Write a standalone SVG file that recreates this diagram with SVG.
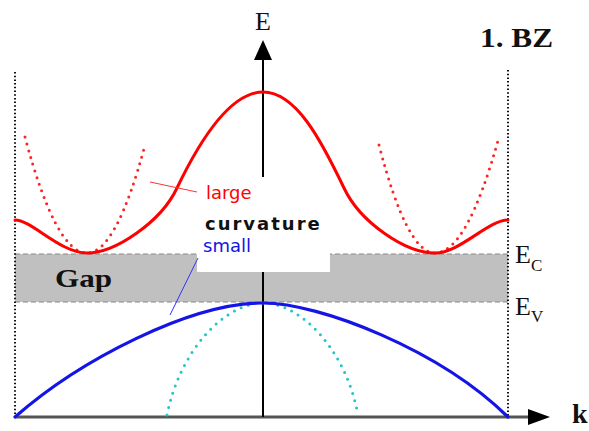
<svg xmlns="http://www.w3.org/2000/svg" width="589" height="431" viewBox="0 0 589 431">
<style>
.serif{font-family:"Liberation Serif","Times New Roman",serif;fill:#111}
.sans{font-family:"DejaVu Sans",Verdana,sans-serif;font-size:18px}
.bzline{stroke:#111;stroke-width:2;stroke-dasharray:1.5 2.2;fill:none}
.gapedge{stroke:#888;stroke-width:1;stroke-dasharray:5 3;fill:none}
.red{stroke:#f00;stroke-width:3;fill:none;stroke-linecap:round}
.reddot{stroke:#f22;stroke-width:3;fill:none;stroke-linecap:round;stroke-dasharray:0 7}
.blue{stroke:#1414e6;stroke-width:3.2;fill:none;stroke-linecap:round}
.cyandot{stroke:#22c4c8;stroke-width:3;fill:none;stroke-linecap:round;stroke-dasharray:0 7.5}
</style>
<rect width="589" height="431" fill="#fff"/>
<g id="gap">
<rect x="15" y="254" width="493" height="48" fill="#c0c0c0"/>
<line class="gapedge" x1="15" y1="254" x2="508" y2="254"/>
<line class="gapedge" x1="15" y1="302" x2="508" y2="302"/>
<text class="serif" x="55" y="287" font-size="26" font-weight="bold" textLength="57" lengthAdjust="spacingAndGlyphs">Gap</text>
</g>
<g id="bz-boundaries">
<line class="bzline" x1="15" y1="72" x2="15" y2="417"/>
<line class="bzline" x1="508" y1="70" x2="508" y2="417"/>
</g>
<g id="axes">
<line x1="15" y1="417" x2="530" y2="417" stroke="#555" stroke-width="3"/>
<polygon points="528,409 550,417 528,425" fill="#000"/>
<line x1="263" y1="417" x2="263" y2="58" stroke="#000" stroke-width="2"/>
<polygon points="254,60 263,40 272,60" fill="#000"/>
<text class="serif" x="263" y="30" font-size="26" text-anchor="middle">E</text>
<text class="serif" x="572" y="423" font-size="28" font-weight="bold">k</text>
<text class="serif" x="480" y="47" font-size="27" font-weight="bold" textLength="73" lengthAdjust="spacingAndGlyphs">1. BZ</text>
</g>
<g id="conduction-band">
<path class="reddot" d="M25,137 Q56,253 87,253 Q116,253 145,145"/>
<path class="reddot" d="M379,145 Q407,253 435,253 Q467,253 499,137"/>
<path class="red" d="M15,220 C32,220 60,253 87,253 C115,253 161,222 177,188 C200,140 230,92 263,92 C296,92 321,140 344,188 C360,222 405,253 435,253 C460,253 488,220 508,220"/>
</g>
<g id="valence-band">
<path class="cyandot" d="M167,415 C180,350 225,303 263,303 C301,303 346,350 358,415"/>
<path class="blue" d="M15,417 C80,360 190,303 263,303 C320,303 440,350 508,417"/>
</g>
<g id="label-box">
<rect x="197" y="177" width="133" height="95" fill="#fff"/>
</g>
<g id="connectors">
<line x1="150" y1="182" x2="197" y2="192" stroke="#f33" stroke-width="1"/>
<line x1="198" y1="258" x2="170" y2="315" stroke="#33f" stroke-width="1"/>
</g>
<g id="labels">
<text class="sans" x="206" y="199" fill="#f00">large</text>
<text class="sans" x="205" y="230" fill="#111" font-weight="bold" letter-spacing="2">curvature</text>
<text class="sans" x="203" y="252" fill="#1414e6">small</text>
</g>
<g id="levels">
<text class="serif" x="515" y="263" font-size="26">E</text>
<text class="serif" x="531" y="271" font-size="17" fill="#333">C</text>
<text class="serif" x="515" y="315" font-size="26">E</text>
<text class="serif" x="531" y="322" font-size="17" fill="#333">V</text>
</g>
</svg>
